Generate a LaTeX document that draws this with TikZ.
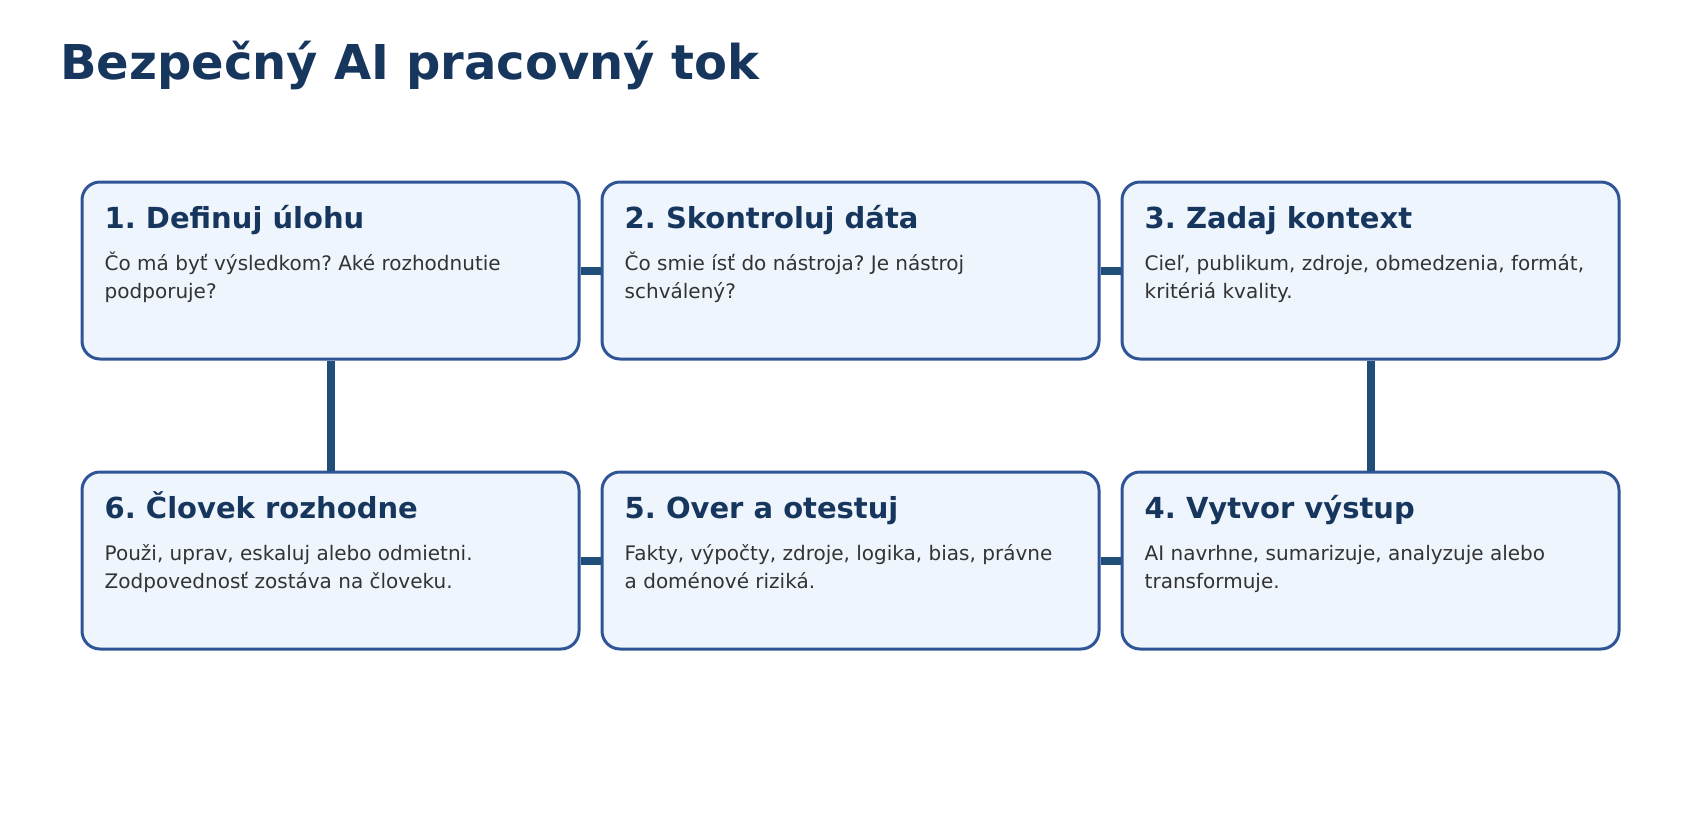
\documentclass[tikz,border=0pt]{standalone}
\usepackage{fontspec}
\setmainfont{DejaVu Sans}
\frenchspacing
\usetikzlibrary{positioning}
\definecolor{titleblue}{HTML}{17365D}
\definecolor{boxedge}{HTML}{2F5597}
\definecolor{boxfill}{HTML}{EEF5FC}
\definecolor{linkblue}{HTML}{1F4E79}
\definecolor{bodygray}{HTML}{333333}
\tikzset{
    stepbox/.style={rectangle, draw=boxedge, fill=boxfill, line width=3pt, rounded corners=18pt,
        minimum width=497pt, minimum height=177pt, node distance=20pt and 20pt},
    stephead/.style={anchor=base west, inner sep=0pt, text=titleblue, font=\fontsize{29}{34}\selectfont\bfseries},
    stepbody/.style={anchor=base west, inner sep=0pt, text=bodygray, align=left, font=\fontsize{20}{28}\selectfont},
    link/.style={draw=linkblue, line width=8pt}
}

\begin{document}
\begin{tikzpicture}[x=1pt, y=-1pt]
    \useasboundingbox (0,0) rectangle (1700,820);
    \node[anchor=base west, inner sep=0pt, text=titleblue, font=\fontsize{48}{56}\selectfont\bfseries]
        (title) at (60,79) {Bezpečný AI pracovný tok};
    % boxes
    \begin{scope}[every node/.style={stepbox}]
        \node (b1) at (330.5,270.5) {};
        \node (b2) [right=of b1] {};
        \node (b3) [right=of b2] {};
        \node (b6) [below=110pt of b1] {};
        \node (b5) [right=of b6] {};
        \node (b4) [right=of b5] {};
    \end{scope}
    % connectors
    \draw[link] (b1) -- (b2);
    \draw[link] (b2) -- (b3);
    \draw[link] (b3) -- (b4);
    \draw[link] (b4) -- (b5);
    \draw[link] (b5) -- (b6);
    \draw[link] (b6) -- (b1);
    % texts (body base = its last line)
    \node[stephead] (h1) at ([shift={(24,48)}]b1.north west) {1. Definuj úlohu};
    \node[stepbody] (t1) at ([yshift=-70pt]h1.base west) {Čo má byť výsledkom? Aké rozhodnutie\\podporuje?};
    \node[stephead] (h2) at ([shift={(24,48)}]b2.north west) {2. Skontroluj dáta};
    \node[stepbody] (t2) at ([yshift=-70pt]h2.base west) {Čo smie ísť do nástroja? Je nástroj\\schválený?};
    \node[stephead] (h3) at ([shift={(24,48)}]b3.north west) {3. Zadaj kontext};
    \node[stepbody] (t3) at ([yshift=-70pt]h3.base west) {Cieľ, publikum, zdroje, obmedzenia, formát,\\kritériá kvality.};
    \node[stephead] (h4) at ([shift={(24,48)}]b4.north west) {4. Vytvor výstup};
    \node[stepbody] (t4) at ([yshift=-70pt]h4.base west) {AI navrhne, sumarizuje, analyzuje alebo\\transformuje.};
    \node[stephead] (h5) at ([shift={(24,48)}]b5.north west) {5. Over a otestuj};
    \node[stepbody] (t5) at ([yshift=-70pt]h5.base west) {Fakty, výpočty, zdroje, logika, bias, právne\\a doménové riziká.};
    \node[stephead] (h6) at ([shift={(24,48)}]b6.north west) {6. Človek rozhodne};
    \node[stepbody] (t6) at ([yshift=-70pt]h6.base west) {Použi, uprav, eskaluj alebo odmietni.\\Zodpovednosť zostáva na človeku.};
\end{tikzpicture}
\end{document}
